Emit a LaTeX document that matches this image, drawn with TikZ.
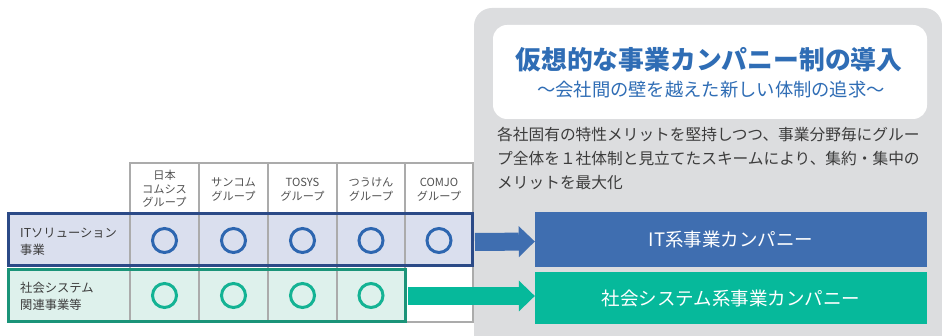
\documentclass[tikz,border=0pt]{standalone}
\usepackage{fontspec}
\newfontfamily\jp{Noto Sans CJK JP}
\usetikzlibrary{arrows.meta}
\definecolor{panelgray}{HTML}{DCDDDF}
\definecolor{titleblue}{HTML}{2F6DB5}
\definecolor{bodygray}{HTML}{3C3C3C}
\definecolor{headgray}{HTML}{505050}
\definecolor{gridgray}{HTML}{ABABAB}
\definecolor{itfill}{HTML}{DADFEE}
\definecolor{itborder}{HTML}{2B4A87}
\definecolor{socfill}{HTML}{DEF1EC}
\definecolor{socborder}{HTML}{1B9479}
\definecolor{circblue}{HTML}{2D66B0}
\definecolor{circgreen}{HTML}{14B394}
\definecolor{coblue}{HTML}{3F6EB0}
\definecolor{cogreen}{HTML}{06B99B}
\tikzset{
  body/.style={anchor=west, inner sep=0pt, text=bodygray, font=\jp\fontsize{15.7}{18}\selectfont},
  headtxt/.style={align=center, inner sep=0pt, text=headgray, font=\jp\fontsize{11.2}{13.5}\selectfont},
  rowtxt/.style={anchor=west, align=left, inner sep=0pt, text=bodygray, font=\jp\fontsize{12.3}{17}\selectfont},
  gridline/.style={draw=gridgray, line width=1.3pt},
  ringmark/.style={circle, line width=3pt, minimum size=24pt, inner sep=0pt},
  company/.style={inner sep=0pt, text=white, minimum width=392pt, font=\jp\fontsize{18.5}{22}\selectfont},
  bigarrow/.style={line width=18pt, -{Triangle[length=16pt 0 0, width=31pt 0 0, line width=0pt 0 0]}}
}
\begin{document}
\begin{tikzpicture}[x=1pt,y=-1pt]
\useasboundingbox (0,0) rectangle (942,336);
\clip (0,0) rectangle (942,336);
% right panel
\fill[panelgray, rounded corners=18pt] (474,8) rectangle (942,370);
\node[fill=white, rounded corners=14pt, minimum width=434pt, minimum height=94pt, inner sep=0pt] (titlebox) at (710,72) {};
\node[inner sep=0pt, text=titleblue, font=\jp\bfseries\fontsize{25.8}{30}\selectfont] (title) at (709,59.5) {仮想的な事業カンパニー制の導入};
\node[inner sep=0pt, text=titleblue, font=\jp\fontsize{18.3}{22}\selectfont] (subtitle) at (711,89.5) {～会社間の壁を越えた新しい体制の追求～};
\node[body] (b1) at (497,135) {各社固有の特性メリットを堅持しつつ、事業分野毎にグルー};
\node[body] (b2) at (497,159) {プ全体を１社体制と見立てたスキームにより、集約・集中の};
\node[body] (b3) at (497,183) {メリットを最大化};
% table fills
\fill[itfill] (8,214) rectangle (472,266);
\fill[socfill] (8,270) rectangle (405,322);
% grid
\foreach \gx in {130,199,268,337,405,473}{
  \draw[gridline] (\gx,163) -- (\gx,322);
}
\draw[gridline] (129.35,163) -- (474,163);
\draw[gridline] (405,322) -- (474,322);
% headers
\node[headtxt] (h1) at (164.5,189) {日本\\コムシス\\グループ};
\node[headtxt] (h2) at (233.5,189.5) {サンコム\\グループ};
\node[headtxt] (h3) at (302.5,189.5) {TOSYS\\グループ};
\node[headtxt] (h4) at (371,189.5) {つうけん\\グループ};
\node[headtxt] (h5) at (439,189.5) {COMJO\\グループ};
% row boxes
\node[draw=itborder, line width=3pt, minimum width=464pt, minimum height=52pt, inner sep=0pt] (itrow) at (240,240) {};
\node[draw=socborder, line width=3pt, minimum width=397pt, minimum height=52pt, inner sep=0pt] (socrow) at (206.5,296) {};
\node[rowtxt] (l1) at (20,242) {ITソリューション\\事業};
\node[rowtxt] (l2) at (20,296) {社会システム\\関連事業等};
% marks
\foreach \mx [count=\i] in {164.5,233.5,302.5,371,439}{
  \node[ringmark, draw=circblue] (ci\i) at (\mx,240.5) {};
}
\foreach \mx [count=\i] in {164.5,233.5,302.5,371}{
  \node[ringmark, draw=circgreen] (cs\i) at (\mx,295.5) {};
}
% companies
\node[company, fill=coblue, minimum height=55pt] (itco) at (731,239.5) {IT系事業カンパニー};
\node[company, fill=cogreen, minimum height=52pt] (socco) at (731,298) {社会システム系事業カンパニー};
% arrows
\draw[bigarrow, coblue] ([xshift=1.5pt, yshift=-2pt]itrow.east) -- ([yshift=-2pt]itco.west);
\draw[bigarrow, cogreen] ([xshift=1.5pt]socrow.east) -- ([yshift=2pt]socco.west);
\end{tikzpicture}
\end{document}
